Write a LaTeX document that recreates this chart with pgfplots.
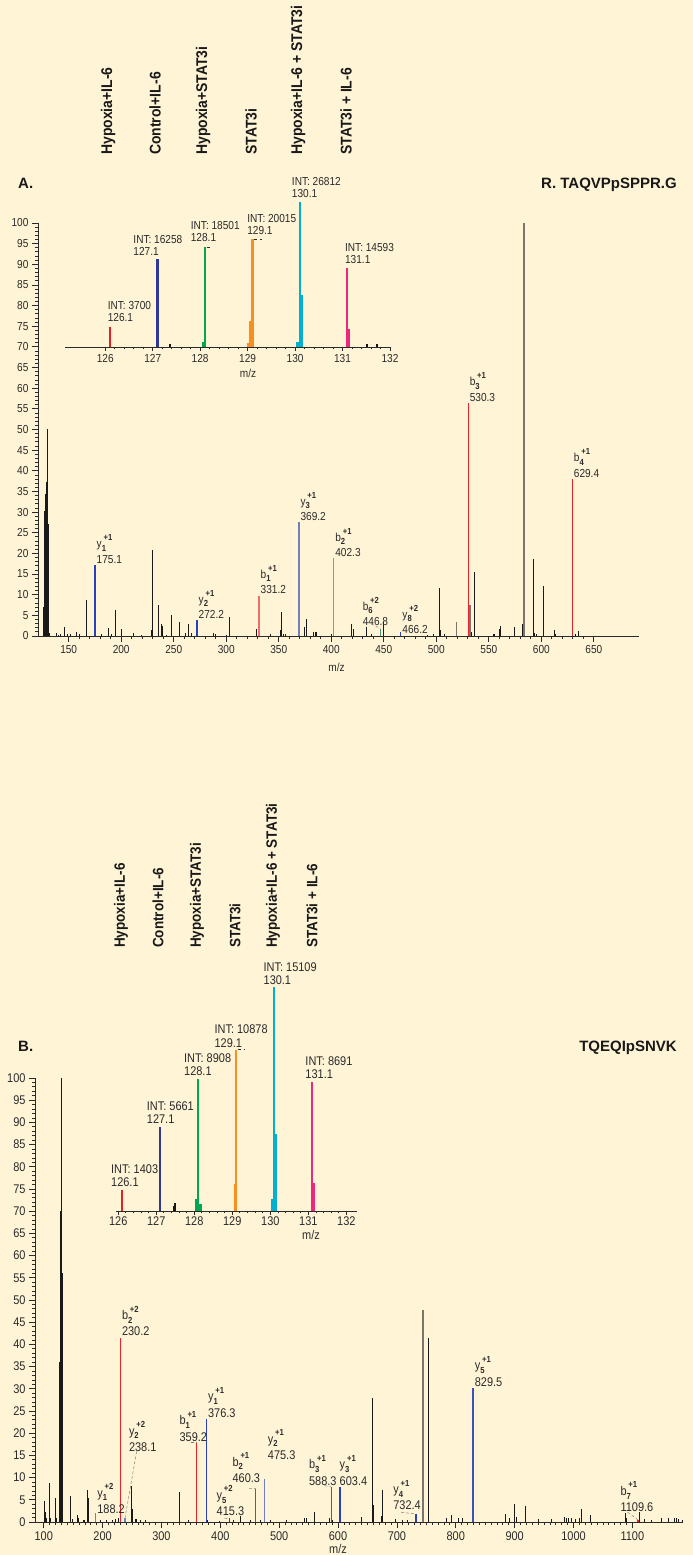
\documentclass[border=0pt]{standalone}
\usepackage{pgfplots}
\pgfplotsset{compat=1.18}
\usepackage{fontspec}
\setmainfont{Liberation Sans}[FakeStretch=0.87]
\newfontfamily\titlefont{Liberation Sans}
\newfontfamily\rotfont{Liberation Sans}[FakeStretch=0.9]
\definecolor{bg}{RGB}{255,244,214}
\definecolor{txt}{RGB}{42,42,42}
\definecolor{pk}{RGB}{25,25,25}
\definecolor{cR}{RGB}{232,30,38}
\definecolor{cB}{RGB}{46,56,150}
\definecolor{cG}{RGB}{0,166,81}
\definecolor{cO}{RGB}{247,143,30}
\definecolor{cC}{RGB}{0,176,206}
\definecolor{cP}{RGB}{236,40,125}
\definecolor{bion}{RGB}{235,35,40}
\definecolor{bionl}{RGB}{240,112,104}
\definecolor{yion}{RGB}{40,64,185}
\definecolor{yionl}{RGB}{112,128,190}
\definecolor{tallg}{RGB}{122,118,110}
\definecolor{tealc}{RGB}{70,150,130}

\newcommand{\fa}{\fontsize{11.6}{12.3}\selectfont}
\newcommand{\fb}{\fontsize{12.6}{13.2}\selectfont}
\newcommand{\is}[2]{\rlap{\raisebox{-0.55ex}{\fontsize{8.8}{9}\selectfont\bfseries #1}}\kern1.8pt\raisebox{1.15ex}{\fontsize{8.8}{9}\selectfont\bfseries #2}}

\tikzset{lab/.style={anchor=south west, inner sep=0pt, align=left, text=txt, xshift=1.5pt, yshift=1.5pt}}
\pgfplotsset{
  specbase/.style={
    scale only axis, clip=false,
    axis line style={txt, line width=0.9pt},
    tick style={txt, line width=0.8pt},
    tick align=outside,
    major tick length=6pt, minor tick length=3pt,
    /pgf/number format/assume math mode=true,
    /pgf/number format/set thousands separator={},
  },
  mainax/.style={specbase, axis lines*=left, ymin=0, ymax=100, ytick={0,5,...,100}, minor y tick num=4},
  insetax/.style={specbase, axis x line*=bottom, axis y line=none, xtick={126,...,132}, minor x tick num=4, major tick length=4pt, minor tick length=2.5pt, ymin=0},
}

\pgfplotstableread{
m h
126.1 6.9
127.1 30.3
128.1 34.5
129.1 37.3
130.1 50
131.1 27.2
131.9 0.8
138.6 0.7
140.2 0.3
142.1 0.5
145.9 2.2
148.8 0.4
151.9 0.6
157.6 1.0
160.2 0.4
166.5 8.8
175.9 4.0
181.4 0.6
187.8 1.9
191.0 0.5
194.5 6.4
200.5 1.6
211.6 0.8
219.5 0.3
228.8 1.4
229.7 20.9
235.4 7.6
238.6 3.0
239.6 2.3
243.3 0.3
247.8 5.0
255.1 3.5
261.4 0.7
264.0 3.0
267.1 0.8
287.8 0.8
289.4 0.5
300.5 0.3
303.3 4.6
329.0 1.6
341.7 0.5
351.2 1.5
352.2 5.7
354.4 0.5
356.9 0.4
374.1 2.1
376.0 4.0
383.0 1.0
384.6 1.0
385.5 1.0
400.4 0.6
419.5 3.0
421.0 1.8
433.1 2.2
438.5 0.6
449.8 3.4
491.5 0.3
497.2 0.5
503.0 11.7
504.3 1.4
507.4 0.5
533.5 1.0
536.1 15.6
554.2 0.6
555.8 0.5
560.3 1.8
560.9 2.5
574.6 2.2
581.9 3.0
583.8 6.2
592.4 18.7
593.7 0.8
595.0 0.5
601.9 12.2
612.1 1.4
613.3 0.5
632.1 0.5
635.3 1.2
}\blackA

\pgfplotstableread{
m h
101.1 4.8
102.8 2.2
105.0 0.8
109.6 8.8
111.9 0.8
119.8 5.3
121.5 1.0
126.1 8.5
127.1 36
128.1 57
129.1 70
130.1 100
131.1 56
145.8 5.8
149.2 0.6
157.2 1.6
158.4 1.0
167.3 0.5
170.1 0.4
174.7 7.3
176.4 5.4
195.7 0.4
205.9 0.5
217.2 0.5
221.7 0.7
226.8 1.0
248.3 8.0
250.6 2.9
255.1 0.7
258.0 0.6
263.6 0.4
273.2 0.4
330.4 6.8
346.3 0.5
377.9 0.5
399.3 0.3
422.2 0.4
433.5 1.3
450.5 0.5
467.5 0.5
485.6 0.5
512.8 0.4
542.8 0.8
546.7 0.8
560.3 2.2
585.2 0.8
590.0 0.5
639.6 1.2
657.7 27.9
659.4 3.8
673.0 1.4
675.3 7.3
696.8 0.6
709.8 0.4
717.7 0.4
745.0 10.1
752.9 41.5
784.6 0.8
792.5 1.6
805.0 0.8
811.8 0.8
884.2 1.8
892.1 0.8
898.9 4.0
902.3 1.2
917.6 3.5
940.2 0.7
961.8 0.7
983.9 1.2
987.3 0.8
991.2 0.8
996.9 1.0
1003.7 0.6
1009.9 0.8
1012.8 2.9
1028.1 1.6
1088.1 2.0
1089.8 1.0
1111.9 2.2
1119.8 0.6
1132.8 0.4
1149.8 0.8
1161.7 0.8
1170.8 0.8
1175.3 0.8
1178.1 0.6
1184.4 0.5
}\blackB

\begin{document}
\begin{tikzpicture}
\path[use as bounding box, fill=bg] (0,0) rectangle (693pt,1555pt);

% ---------- Panel A headers ----------
\begin{scope}[every node/.style={rotate=90, anchor=west, inner sep=0pt, font=\rotfont\fontsize{15.5}{16}\selectfont\bfseries, text=pk}]
\node at (108pt,1400pt) {Hypoxia+IL-6};
\node at (155pt,1400pt) {Control+IL-6};
\node at (203pt,1400pt) {Hypoxia+STAT3i};
\node at (251pt,1400pt) {STAT3i};
\node at (298pt,1400pt) {Hypoxia+IL-6 + STAT3i};
\node at (346pt,1400pt) {STAT3i + IL-6};
\end{scope}
\node[anchor=base west, inner sep=0pt, font=\titlefont\fontsize{15}{16}\selectfont\bfseries, text=pk] at (18pt,1366pt) {A.};
\node[anchor=base east, inner sep=0pt, font=\titlefont\fontsize{15}{16}\selectfont\bfseries, text=pk] at (677pt,1366pt) {R. TAQVPpSPPR.G};

% ---------- Panel A main ----------
\begin{axis}[mainax, at={(38pt,919pt)}, anchor=south west, width=601pt, height=413pt,
  xmin=120.8, xmax=693, xtick={150,200,...,650}, minor x tick num=4,
  tick label style={font=\fa, text=txt}]
\addplot[ycomb, pk, line width=1pt] table[x=m, y=h] {\blackA};
\addplot[ycomb, tallg, line width=1.2pt] coordinates {(518.9,3.4) (532.0,7.6)};
\addplot[ycomb, tallg, line width=2pt] coordinates {(583.2,100)};
\addplot[ycomb, yion, line width=1.2pt] coordinates {(175.1,17.2) (272.2,3.8) (466.2,1.0)};
\addplot[ycomb, yionl, line width=1.4pt] coordinates {(369.2,27.5)};
\addplot[ycomb, bionl, line width=1.4pt] coordinates {(331.2,9.8) (402.3,18.8)};
\addplot[ycomb, bion, line width=1.2pt] coordinates {(530.3,56.4) (629.4,38.0)};
\addplot[ycomb, tealc, line width=1.4pt] coordinates {(446.8,1.8)};
\begin{scope}[every node/.style={lab, font=\fa}]
\node at (axis cs:175.1,17.2) {y\is{1}{+1}\\[3pt]175.1};
\node at (axis cs:272.2,3.8) {y\is{2}{+1}\\[3pt]272.2};
\node at (axis cs:331.2,9.8) {b\is{1}{+1}\\[3pt]331.2};
\node at (axis cs:369.2,27.5) {y\is{3}{+1}\\[3pt]369.2};
\node at (axis cs:402.3,18.8) {b\is{2}{+1}\\[3pt]402.3};
\node at (axis cs:428.4,2.0) {b\is{6}{+2}\\[3pt]446.8};
\node at (axis cs:466.2,0.2) {y\is{8}{+2}\\[3pt]466.2};
\node at (axis cs:530.3,56.4) {b\is{3}{+1}\\[3pt]530.3};
\node at (axis cs:629.4,38.0) {b\is{4}{+1}\\[3pt]629.4};
\end{scope}
\draw[densely dashed, gray, line width=0.5pt] (axis cs:438,3.0) -- (axis cs:446.8,1.8);
\node[font=\fa, text=txt] at (axis cs:405,0) [yshift=-31pt] {m/z};
\end{axis}

% ---------- Panel A inset ----------
\begin{axis}[insetax, at={(65pt,1208pt)}, anchor=south west, width=325pt, height=161.8pt,
  xmin=125.152, xmax=132, ymax=30000, tick label style={font=\fa, text=txt}]
\addplot[ycomb, pk, line width=2pt] coordinates {(127.36,560) (131.51,560) (131.72,560)};
\addplot[ycomb, cR, line width=2.6pt] coordinates {(126.1,3700)};
\addplot[ycomb, cB, line width=2.6pt] coordinates {(127.1,16258)};
\addplot[ycomb, cG, line width=2.4pt] coordinates {(128.06,980) (128.1,18501)};
\addplot[ycomb, cO, line width=2.4pt] coordinates {(129.02,690) (129.06,4800) (129.1,20015)};
\addplot[ycomb, cC, line width=2.4pt] coordinates {(130.05,930) (130.14,9640) (130.1,26812)};
\addplot[ycomb, cP, line width=2.4pt] coordinates {(131.14,3340) (131.1,14593)};
\begin{scope}[every node/.style={anchor=south west, inner sep=0pt, align=left, text=txt, font=\fa}]
\node at (axis cs:126.05,4690) {INT: 3700\\126.1};
\node at (axis cs:126.59,16870) {INT: 16258\\127.1};
\node at (axis cs:127.80,19410) {INT: 18501\\128.1};
\node at (axis cs:128.99,20770) {INT: 20015\\129.1};
\node at (axis cs:129.93,27570) {INT: 26812\\130.1};
\node at (axis cs:131.05,15390) {INT: 14593\\131.1};
\end{scope}
\draw[dashed, txt, line width=0.5pt] (axis cs:128.14,18501) -- (axis cs:128.26,18501);
\draw[dashed, txt, line width=0.5pt] (axis cs:129.14,20015) -- (axis cs:129.31,20015);
\node[font=\fa, text=txt] at (axis cs:129.01,0) [yshift=-26pt] {m/z};
\end{axis}

% ---------- Panel B headers ----------
\begin{scope}[every node/.style={rotate=90, anchor=west, inner sep=0pt, font=\rotfont\fontsize{15}{16}\selectfont\bfseries, text=pk}]
\node at (121pt,607pt) {Hypoxia+IL-6};
\node at (158pt,607pt) {Control+IL-6};
\node at (197pt,607pt) {Hypoxia+STAT3i};
\node at (235pt,607pt) {STAT3i};
\node at (273pt,607pt) {Hypoxia+IL-6 + STAT3i};
\node at (312pt,607pt) {STAT3i + IL-6};
\end{scope}
\node[anchor=base west, inner sep=0pt, font=\titlefont\fontsize{15}{16}\selectfont\bfseries, text=pk] at (18pt,503pt) {B.};
\node[anchor=base east, inner sep=0pt, font=\titlefont\fontsize{15}{16}\selectfont\bfseries, text=pk] at (677pt,503pt) {TQEQIpSNVK};

% ---------- Panel B main ----------
\begin{axis}[mainax, at={(35pt,33pt)}, anchor=south west, width=648pt, height=444pt,
  xmin=85.2, xmax=1186, xtick={100,200,...,1100}, minor x tick num=9,
  tick label style={font=\fb, text=txt}]
\addplot[ycomb, pk, line width=1pt] table[x=m, y=h] {\blackB};
\addplot[ycomb, tallg, line width=2pt] coordinates {(743.8,47.7)};
\addplot[ycomb, bion, line width=1.2pt] coordinates {(230.2,41.5) (359.2,18) (460.3,7.5) (588.3,7.9) (1109.6,0.5)};
\addplot[ycomb, yion, line width=1.2pt] coordinates {(376.3,23.2) (415.3,0.8) (603.4,7.9) (732.4,1.8)};
\addplot[ycomb, yionl, line width=1.3pt] coordinates {(188.2,2.0) (238.1,0.9) (475.3,9.7)};
\addplot[ycomb, yion!70!yionl, line width=1.3pt] coordinates {(829.5,30.2)};
\begin{scope}[every node/.style={lab, font=\fb}]
\node at (axis cs:188.2,1.5) {y\is{1}{+2}\\[3pt]188.2};
\node at (axis cs:230.2,41.5) {b\is{2}{+2}\\[3pt]230.2};
\node at (axis cs:242,15.5) {y\is{2}{+2}\\[3pt]238.1};
\node at (axis cs:328,17.8) {b\is{1}{+1}\\[3pt]359.2};
\node at (axis cs:376.3,23.2) {y\is{1}{+1}\\[3pt]376.3};
\node at (axis cs:391,1.0) {y\is{5}{+2}\\[3pt]415.3};
\node at (axis cs:418,8.5) {b\is{2}{+1}\\[3pt]460.3};
\node at (axis cs:478,13.7) {y\is{2}{+1}\\[3pt]475.3};
\node at (axis cs:548,7.9) {b\is{3}{+1}\\[3pt]588.3};
\node at (axis cs:600,7.9) {y\is{3}{+1}\\[3pt]603.4};
\node at (axis cs:691,2.3) {y\is{4}{+1}\\[3pt]732.4};
\node at (axis cs:829.5,30.2) {y\is{5}{+1}\\[3pt]829.5};
\node at (axis cs:1077,1.9) {b\is{7}{+1}\\[3pt]1109.6};
\end{scope}
\begin{scope}[densely dashed, gray, line width=0.5pt]
\draw (axis cs:257.9,15.9) -- (axis cs:238.1,0.9);
\draw (axis cs:350,18) -- (axis cs:359.2,18);
\draw (axis cs:407,0.9) -- (axis cs:415.3,0.6);
\draw (axis cs:449,7.6) -- (axis cs:460.3,7.5);
\draw (axis cs:577,8.2) -- (axis cs:588.3,7.9);
\draw (axis cs:707,2.2) -- (axis cs:732.4,1.8);
\draw (axis cs:1092,2.2) -- (axis cs:1109.6,0.5);
\end{scope}
\node[font=\fb, text=txt] at (axis cs:600,0) [yshift=-27pt] {m/z};
\end{axis}

% ---------- Panel B inset ----------
\begin{axis}[insetax, at={(116pt,344pt)}, anchor=south west, width=241pt, height=237.2pt,
  xmin=125.942, xmax=132.28, ymax=16000, tick label style={font=\fb, text=txt},
  xticklabel style={yshift=2pt}]
\addplot[ycomb, pk, line width=2pt] coordinates {(127.47,340) (127.5,540)};
\addplot[ycomb, cR, line width=2.4pt] coordinates {(126.1,1403)};
\addplot[ycomb, cB, line width=2.4pt] coordinates {(127.1,5661)};
\addplot[ycomb, cG, line width=2.4pt] coordinates {(128.05,790) (128.16,470) (128.1,8908)};
\addplot[ycomb, cO, line width=2.4pt] coordinates {(129.07,1820) (129.1,10878)};
\addplot[ycomb, cC, line width=2.4pt] coordinates {(130.05,790) (130.14,5190) (130.1,15109)};
\addplot[ycomb, cP, line width=2.4pt] coordinates {(131.14,1900) (131.1,8691)};
\begin{scope}[every node/.style={anchor=south west, inner sep=0pt, align=left, text=txt, font=\fb}]
\node at (axis cs:125.81,1640) {INT: 1403\\126.1};
\node at (axis cs:126.75,5870) {INT: 5661\\127.1};
\node at (axis cs:127.73,9100) {INT: 8908\\128.1};
\node at (axis cs:128.53,11040) {INT: 10878\\129.1};
\node at (axis cs:129.82,15245) {INT: 15109\\130.1};
\node at (axis cs:130.92,8900) {INT: 8691\\131.1};
\end{scope}
\draw[dashed, txt, line width=0.5pt] (axis cs:129.14,10878) -- (axis cs:129.3,10878);
\node[font=\fb, text=txt] at (axis cs:131.07,0) [yshift=-24pt] {m/z};
\end{axis}
\end{tikzpicture}
\end{document}
